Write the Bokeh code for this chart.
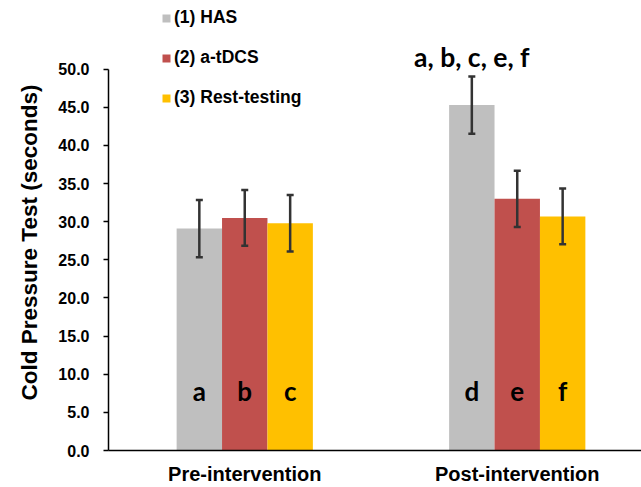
from bokeh.plotting import figure
from bokeh.models import (ColumnDataSource, Range1d, FixedTicker, NumeralTickFormatter,
                          Legend, LegendItem, Whisker, TeeHead, Label, Title)
from bokeh.core.properties import value
from bokeh.embed import file_html
from bokeh.resources import INLINE

# ---- data ----
categories = ["Pre-intervention", "Post-intervention"]
series_names = ["(1) HAS", "(2) a-tDCS", "(3) Rest-testing"]
has_mean = [29.1, 45.3]
atdcs_mean = [30.5, 33.0]
rest_mean = [29.8, 30.7]
has_err = [3.75, 3.75]
atdcs_err = [3.65, 3.7]
rest_err = [3.7, 3.65]
has_letters = ["a", "d"]
atdcs_letters = ["b", "e"]
rest_letters = ["c", "f"]
top_note = "a, b, c, e, f"
top_note_y = 51.6
letter_y = 7.8
y_ticks = [0, 5, 10, 15, 20, 25, 30, 35, 40, 45, 50]
y_title = "Cold Pressure Test (seconds)"
colors = ["#BFBFBF", "#C0504D", "#FFC000"]

p = figure(width=641, height=487, output_backend="svg", toolbar_location=None,
           x_range=Range1d(0, 1.956), y_range=Range1d(0, 57.96),
           min_border_left=107, min_border_right=0, min_border_top=8, min_border_bottom=35)
p.outline_line_color = None
p.xgrid.visible = False
p.ygrid.visible = False
p.background_fill_color = "white"

bar_w = 1.0 / 6
offsets = [-bar_w, 0.0, bar_w]
means = [has_mean, atdcs_mean, rest_mean]
errs = [has_err, atdcs_err, rest_err]
letters = [has_letters, atdcs_letters, rest_letters]
centers = [i + 0.5 for i in range(len(categories))]

renderers = []
for k in range(3):
    xs = [c + offsets[k] for c in centers]
    src = ColumnDataSource(dict(
        x=xs, top=means[k],
        upper=[m + e for m, e in zip(means[k], errs[k])],
        lower=[m - e for m, e in zip(means[k], errs[k])],
        lab=letters[k], ly=[letter_y] * len(xs)))
    r = p.vbar(x="x", top="top", width=bar_w, source=src, fill_color=colors[k],
               line_color=None)
    renderers.append(r)
    w = Whisker(source=src, base="x", upper="upper", lower="lower",
                line_color="#333333", line_width=2.5, level="annotation",
                upper_head=TeeHead(size=7, line_color="#333333", line_width=2.5),
                lower_head=TeeHead(size=7, line_color="#333333", line_width=2.5))
    p.add_layout(w)
    p.text(x="x", y="ly", text="lab", source=src, text_align="center",
           text_baseline="middle", text_font=value("Lato"), text_font_style="bold",
           text_font_size="26px", text_color="black")

note = Label(x=centers[1] + offsets[0], y=top_note_y, text=top_note,
             text_align="center", text_baseline="middle", text_font="Lato",
             text_font_style="bold", text_font_size="26.5px", text_color="black")
p.add_layout(note)

# y axis
ya = p.yaxis[0]
ya.bounds = (0, 50)
ya.ticker = FixedTicker(ticks=y_ticks)
ya.formatter = NumeralTickFormatter(format="0.0")
ya.minor_tick_line_color = None
ya.major_tick_in = 0
ya.major_tick_out = 5
ya.major_tick_line_color = "black"
ya.major_tick_line_width = 1.5
ya.axis_line_color = "black"
ya.axis_line_width = 1.5
ya.major_label_standoff = 14
ya.major_label_text_font = "Liberation Sans"
ya.major_label_text_font_style = "bold"
ya.major_label_text_font_size = "16px"
ya.major_label_text_color = "black"

# y axis title as a side title, so it can be shifted along the axis
ytitle = Title(text=y_title, align="left", offset=50, standoff=28,
               text_font="Liberation Sans", text_font_style="bold",
               text_font_size="22.5px", text_color="black")
p.add_layout(ytitle, "left")

# x axis
xa = p.xaxis[0]
xa.ticker = FixedTicker(ticks=centers)
xa.major_label_overrides = {c: n for c, n in zip(centers, categories)}
xa.minor_tick_line_color = None
xa.major_tick_in = 0
xa.major_tick_out = 0
xa.axis_line_color = "black"
xa.axis_line_width = 1.5
xa.major_label_standoff = 12
xa.major_label_text_font = "Liberation Sans"
xa.major_label_text_font_style = "bold"
xa.major_label_text_font_size = "20px"
xa.major_label_text_color = "black"

legend = Legend(items=[LegendItem(label=n, renderers=[r]) for n, r in zip(series_names, renderers)],
                location=(53, 342), orientation="vertical", padding=0, margin=0,
                spacing=19, glyph_width=10, glyph_height=10, label_height=20,
                label_standoff=3, border_line_color=None, background_fill_alpha=0,
                label_text_font="Liberation Sans", label_text_font_style="bold",
                label_text_font_size="17.5px", label_text_color="black")
p.add_layout(legend)

open("out.html", "w").write(file_html(p, INLINE))
